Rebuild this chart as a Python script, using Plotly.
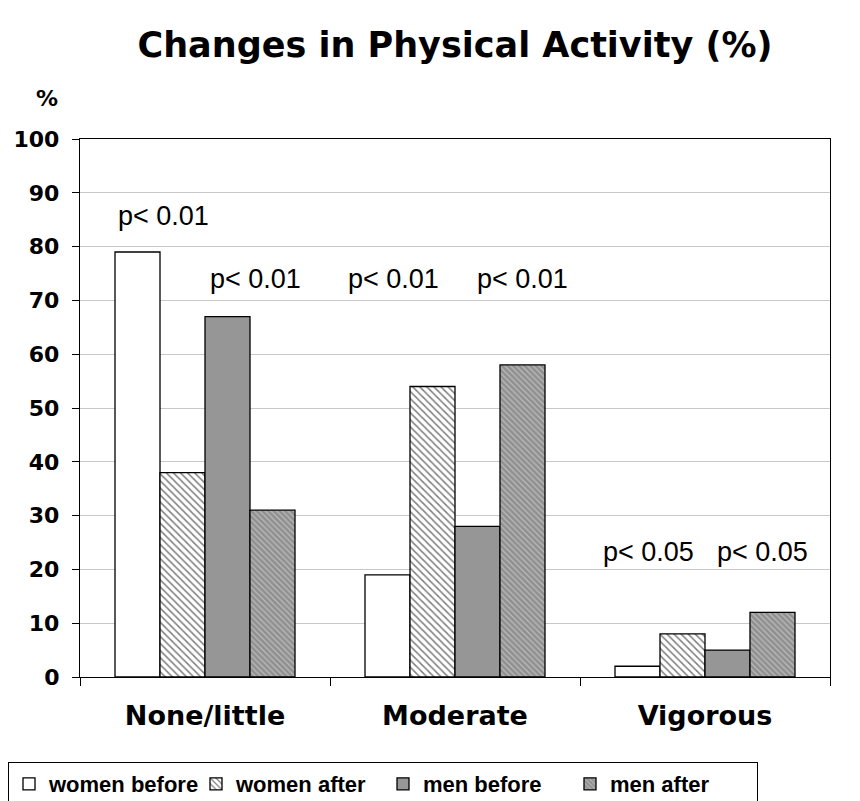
import plotly.graph_objects as go

categories = ["None/little", "Moderate", "Vigorous"]
women_before = [79, 19, 2]
women_after = [38, 54, 8]
men_before = [67, 28, 5]
men_after = [31, 58, 12]
series_names = ["women before", "women after", "men before", "men after"]

# p-value labels: (category index, offset within category, y value, text)
p_cat = [0, 0, 1, 1, 2, 2]
p_offset = [-0.168, 0.2, -0.248, 0.268, -0.228, 0.228]
p_y = [85.7, 74.0, 74.0, 74.0, 23.2, 23.2]
p_text = ["p< 0.01", "p< 0.01", "p< 0.01", "p< 0.01", "p< 0.05", "p< 0.05"]

y_ticks = list(range(0, 101, 10))

styles = [
    dict(color="white", pattern=None),
    dict(color="white", pattern=dict(shape="\\", fgcolor="black", bgcolor="white", size=5, solidity=0.3)),
    dict(color="#969696", pattern=None),
    dict(color="#a0a0a0", pattern=dict(shape="\\", fgcolor="#e8e8e8", bgcolor="#909090", size=4, solidity=0.3)),
]

fig = go.Figure()
for name, vals, st in zip(series_names, [women_before, women_after, men_before, men_after], styles):
    marker = dict(color=st["color"], line=dict(color="black", width=1.3))
    if st["pattern"]:
        marker["pattern"] = st["pattern"]
    fig.add_trace(go.Bar(x=categories, y=vals, name=name, marker=marker))

for c, o, yv, t in zip(p_cat, p_offset, p_y, p_text):
    fig.add_annotation(x=c + o, y=yv, xref="x", yref="y", text=t, showarrow=False,
                       font=dict(family="Liberation Sans", size=27, color="black"))

fig.add_annotation(x=-0.044, y=1.076, xref="paper", yref="paper", text="%", showarrow=False,
                   xanchor="center", yanchor="middle",
                   font=dict(family="DejaVu Sans", size=22, color="black", weight="bold"))

fig.update_layout(
    width=860, height=801,
    margin=dict(l=72, r=38, t=131, b=132),
    paper_bgcolor="white", plot_bgcolor="white",
    title=dict(text="Changes in Physical Activity (%)", x=0.5, xref="paper", xanchor="center",
               y=1 - 37 / 801, yref="container", yanchor="middle",
               font=dict(family="DejaVu Sans", size=35, color="black", weight="bold")),
    barmode="group", bargap=0.28, bargroupgap=0,
    showlegend=True,
    legend=dict(orientation="h", xref="container", yref="container", x=0.0, y=1 - 754 / 801,
                xanchor="left", yanchor="top", bordercolor="black", borderwidth=1,
                font=dict(family="Liberation Sans", size=22, color="black", weight="bold"),
                itemwidth=30, traceorder="normal", entrywidth=142),
    xaxis=dict(type="category", showline=True, linecolor="black", linewidth=1.3, mirror=True,
               ticks="outside", ticklen=8, tickcolor="black", tickson="boundaries",
               ticklabelstandoff=14, automargin=False,
               tickfont=dict(family="DejaVu Sans", size=27, color="black", weight="bold"),
               showgrid=False, range=[-0.5, 2.5]),
    yaxis=dict(range=[0, 100], tickvals=y_ticks, showline=True, linecolor="black", linewidth=1.3,
               mirror=True, ticks="outside", ticklen=7, tickcolor="black",
               ticklabelstandoff=8, automargin=False,
               tickfont=dict(family="DejaVu Sans", size=22, color="black", weight="bold"),
               showgrid=True, gridcolor="#c8c8c8", gridwidth=1, zeroline=False),
)

fig.write_html("out.html")
